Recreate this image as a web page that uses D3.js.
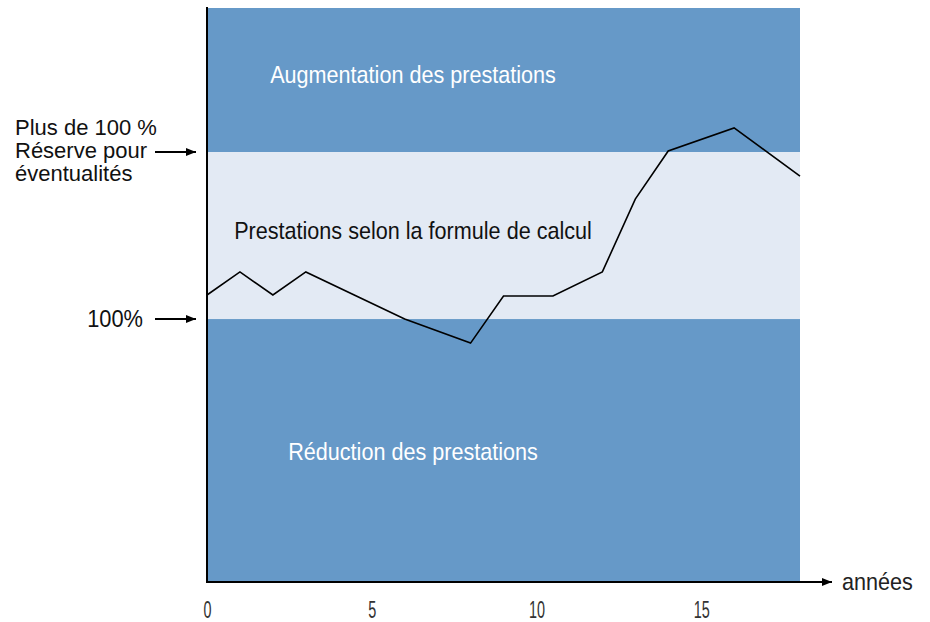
<!DOCTYPE html>
<html>
<head>
<meta charset="utf-8">
<script src="https://cdn.jsdelivr.net/npm/d3@7"></script>
<style>
  body { margin: 0; background: #fff; }
  text { font-family: "Liberation Sans", Arial, sans-serif; }
</style>
</head>
<body>
<div id="chart"></div>
<script>
// années et niveau de la réserve (100 = 100 %)
var annees = [0, 1, 2, 3, 6, 8, 9, 10.5, 12, 13, 14, 16, 18];
var niveau = [107.2, 114.1, 107.2, 114.1, 100, 92.8, 106.9, 106.9, 114.1, 135.9, 150.3, 157.2, 142.8];
var xTicks = [0, 5, 10, 15];
var bandes = [
  { de: 150, a: 193.1, couleur: "#6699c8", label: "Augmentation des prestations", texte: "#fff" },
  { de: 100, a: 150, couleur: "#e3eaf4", label: "Prestations selon la formule de calcul", texte: "#111" },
  { de: 21.3, a: 100, couleur: "#6699c8", label: "Réduction des prestations", texte: "#fff" }
];
var reperes = [
  { v: 150, lignes: ["Plus de 100 %", "Réserve pour", "éventualités"] },
  { v: 100, lignes: ["100%"] }
];

var width = 930, height = 622;
var sx = 0.9; // police resserrée
var x = d3.scaleLinear().domain([0, 18]).range([207, 800]);
var y = d3.scaleLinear().domain([21.3, 193.1]).range([582, 8]);

var svg = d3.select("#chart").append("svg")
  .attr("width", width).attr("height", height);

svg.append("defs").append("marker")
  .attr("id", "fleche")
  .attr("viewBox", "0 0 10 10")
  .attr("refX", 10).attr("refY", 5)
  .attr("markerWidth", 10).attr("markerHeight", 10)
  .attr("markerUnits", "userSpaceOnUse")
  .attr("orient", "auto")
  .append("path").attr("d", "M0,1 L10,5 L0,9 Z").attr("fill", "#000");

function place(px, py, s) {
  return "translate(" + px + "," + py + ") scale(" + (s || sx) + ",1)";
}

// bandes de fond
svg.selectAll("rect.bande")
  .data(bandes).enter().append("rect")
  .attr("class", "bande")
  .attr("x", x(0)).attr("width", x(18) - x(0))
  .attr("y", function (d) { return y(d.a); })
  .attr("height", function (d) { return y(d.de) - y(d.a); })
  .attr("fill", function (d) { return d.couleur; });

// libellés des bandes
var pos = [[413, 83], [413, 239], [413, 460]];
svg.selectAll("text.bande")
  .data(bandes).enter().append("text")
  .attr("class", "bande")
  .attr("transform", function (d, i) { return place(pos[i][0], pos[i][1]); })
  .attr("text-anchor", "middle")
  .style("font-size", "24px")
  .attr("fill", function (d) { return d.texte; })
  .text(function (d) { return d.label; });

// courbe
svg.append("path")
  .datum(annees.map(function (a, i) { return [a, niveau[i]]; }))
  .attr("fill", "none").attr("stroke", "#000").attr("stroke-width", 1.6)
  .attr("d", d3.line().x(function (d) { return x(d[0]); }).y(function (d) { return y(d[1]); }));

// axes
svg.append("line")
  .attr("x1", x(0)).attr("x2", x(0)).attr("y1", 7).attr("y2", y.range()[0])
  .attr("stroke", "#000").attr("stroke-width", 2);
svg.append("line")
  .attr("x1", x(0) - 1).attr("x2", 832).attr("y1", y.range()[0]).attr("y2", y.range()[0])
  .attr("stroke", "#000").attr("stroke-width", 2)
  .attr("marker-end", "url(#fleche)");
svg.append("text")
  .attr("transform", place(842, 590))
  .style("font-size", "24px").attr("fill", "#222").text("années");

var xAxis = svg.append("g")
  .attr("transform", "translate(0," + y.range()[0] + ")")
  .call(d3.axisBottom(x).tickValues(xTicks).tickSize(0).tickPadding(19));
xAxis.select(".domain").remove();
xAxis.selectAll("text")
  .style("font-size", "24px").attr("fill", "#333")
  .style("font-family", "\"Liberation Sans\", sans-serif")
  .attr("transform", "scale(0.6,1)");

// repères à gauche
reperes.forEach(function (r) {
  var yy = y(r.v);
  svg.append("line")
    .attr("x1", 155).attr("x2", 196).attr("y1", yy).attr("y2", yy)
    .attr("stroke", "#000").attr("stroke-width", 2)
    .attr("marker-end", "url(#fleche)");
  if (r.lignes.length === 1) {
    svg.append("text").style("font-size", "23px").attr("fill", "#111")
      .attr("transform", place(143, yy + 8, 0.95))
      .attr("text-anchor", "end").text(r.lignes[0]);
  } else {
    r.lignes.forEach(function (l, i) {
      svg.append("text").style("font-size", "22px").attr("fill", "#111")
        .attr("transform", place(15, yy - 17 + i * 23, 1))
        .text(l);
    });
  }
});
</script>
</body>
</html>
